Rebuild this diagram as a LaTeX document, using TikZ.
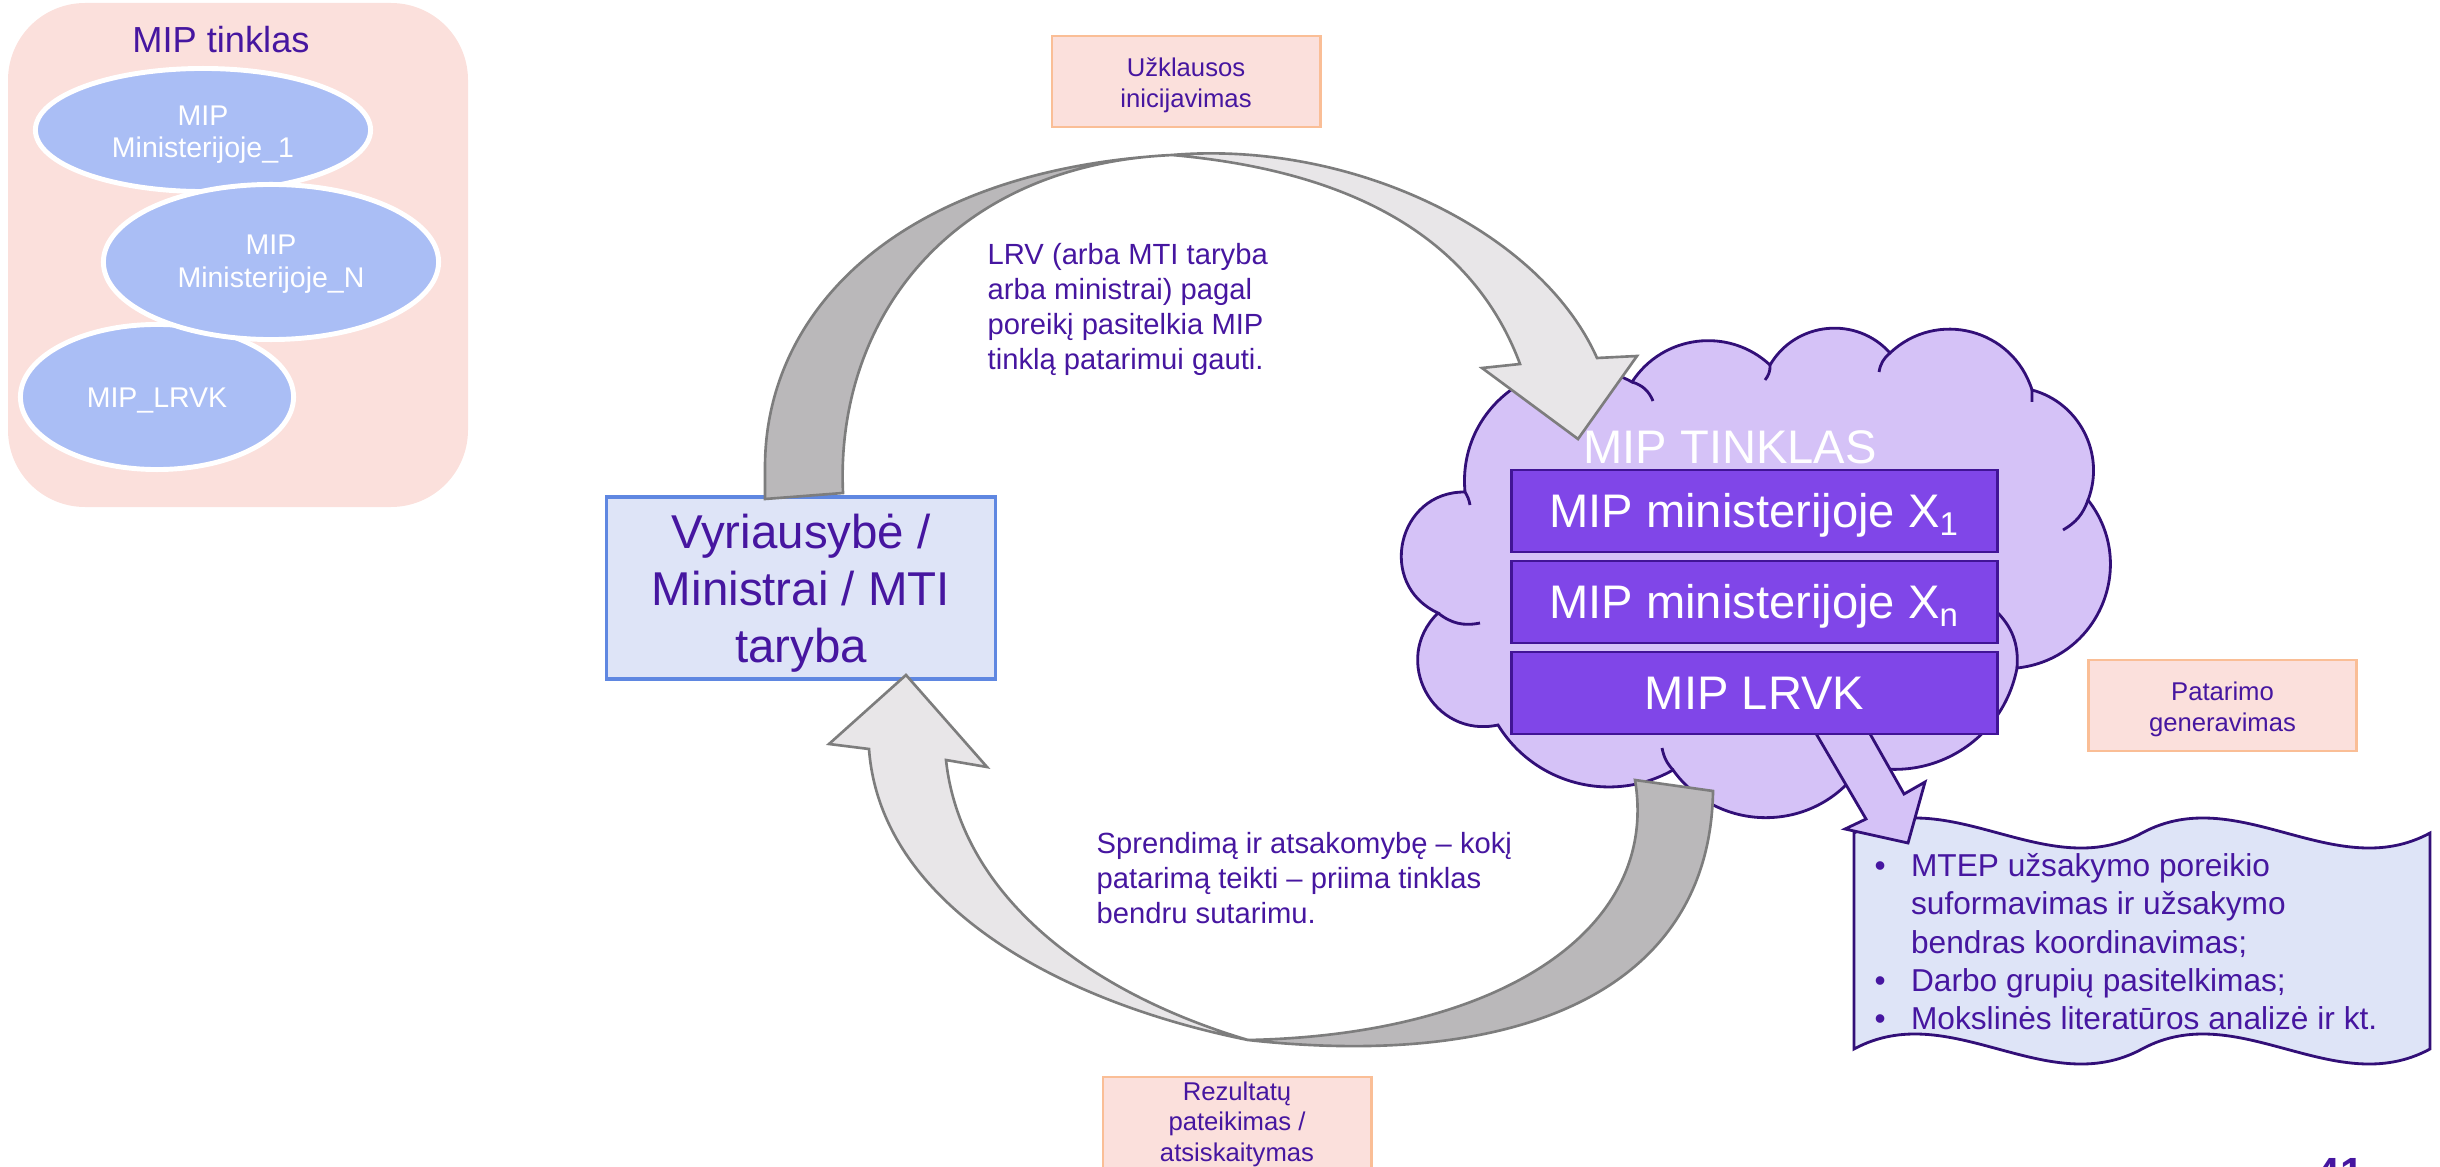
\documentclass[tikz,border=0pt]{standalone}
\usepackage{fontspec}
\setmainfont{Liberation Sans}
\usetikzlibrary{shapes.geometric}

\definecolor{textpurple}{RGB}{70,22,160}
\definecolor{panelpink}{RGB}{251,224,220}
\definecolor{peachline}{RGB}{250,190,150}
\definecolor{ellblue}{RGB}{170,190,245}
\definecolor{boxblue}{RGB}{222,228,247}
\definecolor{blueline}{RGB}{95,135,225}
\definecolor{cloudfill}{RGB}{213,194,247}
\definecolor{cloudline}{RGB}{50,15,120}
\definecolor{boxpurple}{RGB}{128,70,232}
\definecolor{boxline}{RGB}{65,20,150}
\definecolor{greydark}{RGB}{186,184,186}
\definecolor{greylight}{RGB}{232,230,232}
\definecolor{greyline}{RGB}{125,125,125}

\newcommand{\textrows}[2]{\begin{tabular}[t]{@{}#1@{}}#2\end{tabular}}

\begin{document}
\begin{tikzpicture}[x=0.01cm, y=0.01cm,
	every node/.style={inner sep=0pt, text=textpurple},
	pinkbox/.style={draw=peachline, fill=panelpink, line width=0.8pt, minimum width=2.68cm, minimum height=0.91cm, font=\fontsize{7.3}{8.8}\selectfont, text height=0pt, text depth=2.9pt},
	mipell/.style={ellipse, fill=ellblue, draw=white, line width=1.4pt, text=white, font=\fontsize{8.1}{9.36}\selectfont},
	mipbox/.style={draw=boxline, fill=boxpurple, line width=0.8pt, minimum width=4.85cm, minimum height=0.82cm, text=white, font=\fontsize{13.4}{16}\selectfont, text height=9.6pt, text depth=0pt},
	backband/.style={fill=greydark, draw=greyline, line width=0.75pt},
	frontband/.style={fill=greylight, draw=greyline, line width=0.75pt},
	note/.style={anchor=base west, font=\fontsize{8.3}{9.9}\selectfont}]
	\useasboundingbox (0,0) rectangle (2440,-1167);

	% MIP network panel
	\fill[panelpink, rounded corners=7.7mm] (8,-3) rectangle (468,-507);
	\node[anchor=base, font=\fontsize{10.3}{12}\selectfont] (paneltitle) at (221,-53) {MIP tinklas};
	\node[mipell, minimum width=3.35cm, minimum height=1.23cm, text height=0pt, text depth=2.8pt] (ell1) at (203,-130) {\textrows{c}{MIP\\Ministerijoje\_1}};
	\node[mipell, minimum width=2.73cm, minimum height=1.45cm, text height=5.7pt, text depth=0pt] (ell3) at (157,-397) {MIP\_LRVK};
	\node[mipell, minimum width=3.35cm, minimum height=1.55cm, text height=0pt, text depth=4pt] (ell2) at (271,-262) {\textrows{c}{MIP\\Ministerijoje\_N}};

	% stage labels
	\node[pinkbox] (query) at (1186,-81.5) {\textrows{c}{Užklausos\\inicijavimas}};
	\node[pinkbox] (advice) at (2222.5,-705.5) {\textrows{c}{Patarimo\\generavimas}};
	\node[pinkbox, text depth=12.8pt] (report) at (1237,-1122.5) {\textrows{c}{Rezultatų\\pateikimas /\\atsiskaitymas}};

	\node[draw=blueline, fill=boxblue, line width=0.9pt, minimum width=3.88cm, minimum height=1.82cm, font=\fontsize{13.5}{16.2}\selectfont, text height=0pt, text depth=22.7pt] (gov) at (801,-588) {\textrows{c}{Vyriausybė /\\Ministrai / MTI\\taryba}};

	% cloud
	\filldraw[fill=cloudfill, draw=cloudline, line width=0.8pt]
		(1438,-613) to[bend left=78, looseness=1.4] (1465,-492)
		to[bend left=62, looseness=1.16] (1632,-382)
		to[bend left=50, looseness=1.04] (1770,-365)
		to[bend left=54, looseness=1.07] (1890,-353)
		to[bend left=58, looseness=1.12] (2032,-390)
		to[bend left=48, looseness=1.02] (2088,-500)
		to[bend left=61, looseness=1.15] (2017,-668)
		to[bend left=47, looseness=1.02] (1862,-765)
		to[bend left=56, looseness=1.09] (1673,-770)
		to[bend left=44, looseness=0.99] (1498,-725)
		to[bend left=74, looseness=1.34] (1438,-613) -- cycle;
	\draw[cloudline, line width=0.8pt]
		(1438,-613) to[bend right=25] (1480,-623)
		(1465,-492) to[bend left=10] (1470,-505)
		(1632,-382) to[bend left=25] (1653,-401)
		(1770,-365) to[bend left=20] (1765,-380)
		(1890,-353) to[bend right=20] (1879,-372)
		(2032,-390) -- (2032,-402)
		(2088,-500) to[bend left=20] (2063,-530)
		(2017,-668) to[bend right=25] (1995,-610)
		(1673,-770) to[bend left=15] (1662,-748);

	% result sheet
	\filldraw[fill=boxblue, draw=cloudline, line width=0.8pt]
		(1854,-833) .. controls (1950,-781) and (2046,-885) .. (2142,-833)
		.. controls (2238,-781) and (2334,-885) .. (2430,-833) -- (2430,-1049)
		.. controls (2334,-1101) and (2238,-997) .. (2142,-1049)
		.. controls (2046,-1101) and (1950,-997) .. (1854,-1049) -- cycle;
	\node[anchor=base west, font=\fontsize{9}{10.9}\selectfont] (tasks) at (1874,-876.5) {\begin{tabular}[t]{@{}l@{\hspace{7.2pt}}l@{}}
		\textbullet & MTEP užsakymo poreikio\\
		& suformavimas ir užsakymo\\
		& bendras koordinavimas;\\
		\textbullet & Darbo grupių pasitelkimas;\\
		\textbullet & Mokslinės literatūros analizė ir kt.
	\end{tabular}};

	\filldraw[fill=cloudfill, draw=cloudline, line width=0.8pt] (1811,-725) -- (1866,-819) -- (1845,-829) -- (1908,-843) -- (1925,-782) -- (1904,-794) -- (1865,-725) -- cycle;

	% network members
	\node[anchor=base, text=white, font=\fontsize{13.4}{16}\selectfont] (nettitle) at (1730,-463) {MIP TINKLAS};
	\node[mipbox] (mip1) at (1754.5,-511) {MIP ministerijoje X\textsubscript{1}};
	\node[mipbox] (mipn) at (1754.5,-602) {MIP ministerijoje X\textsubscript{n}};
	\node[mipbox] (miplrvk) at (1754.5,-693) {MIP LRVK};

	% request arrow
	\filldraw[backband] (765,-499) -- (765,-467) .. controls (765,-310) and (900,-170) .. (1172,-155)
		.. controls (950,-165) and (835,-320) .. (843,-493) -- cycle;
	\filldraw[frontband] (1172,-155) .. controls (1350,-140) and (1540,-230) .. (1597,-358)
		-- (1637,-356) -- (1578,-439) -- (1482,-368) -- (1520,-364)
		.. controls (1470,-230) and (1340,-170) .. (1172,-155) -- cycle;

	% answer arrow
	\filldraw[backband] (1713,-791) .. controls (1710,-990) and (1520,-1070) .. (1248,-1040)
		.. controls (1500,-1035) and (1660,-930) .. (1635,-780) -- cycle;
	\filldraw[frontband] (1248,-1040) .. controls (1050,-1000) and (880,-900) .. (869,-749)
		-- (829,-744) -- (906,-675) -- (987,-767) -- (946,-760)
		.. controls (960,-890) and (1080,-990) .. (1248,-1040) -- cycle;

	\node[note] (asktext) at (987,-264.6) {\textrows{l}{LRV (arba MTI taryba\\arba ministrai) pagal\\poreikį pasitelkia MIP\\tinklą patarimui gauti.}};
	\node[note] (decisiontext) at (1096,-853.4) {\textrows{l}{Sprendimą ir atsakomybę – kokį\\patarimą teikti – priima tinklas\\bendru sutarimu.}};

	\node[anchor=north, font=\bfseries\fontsize{12}{14}\selectfont] (pagenum) at (2340,-1158) {41};
\end{tikzpicture}
\end{document}
